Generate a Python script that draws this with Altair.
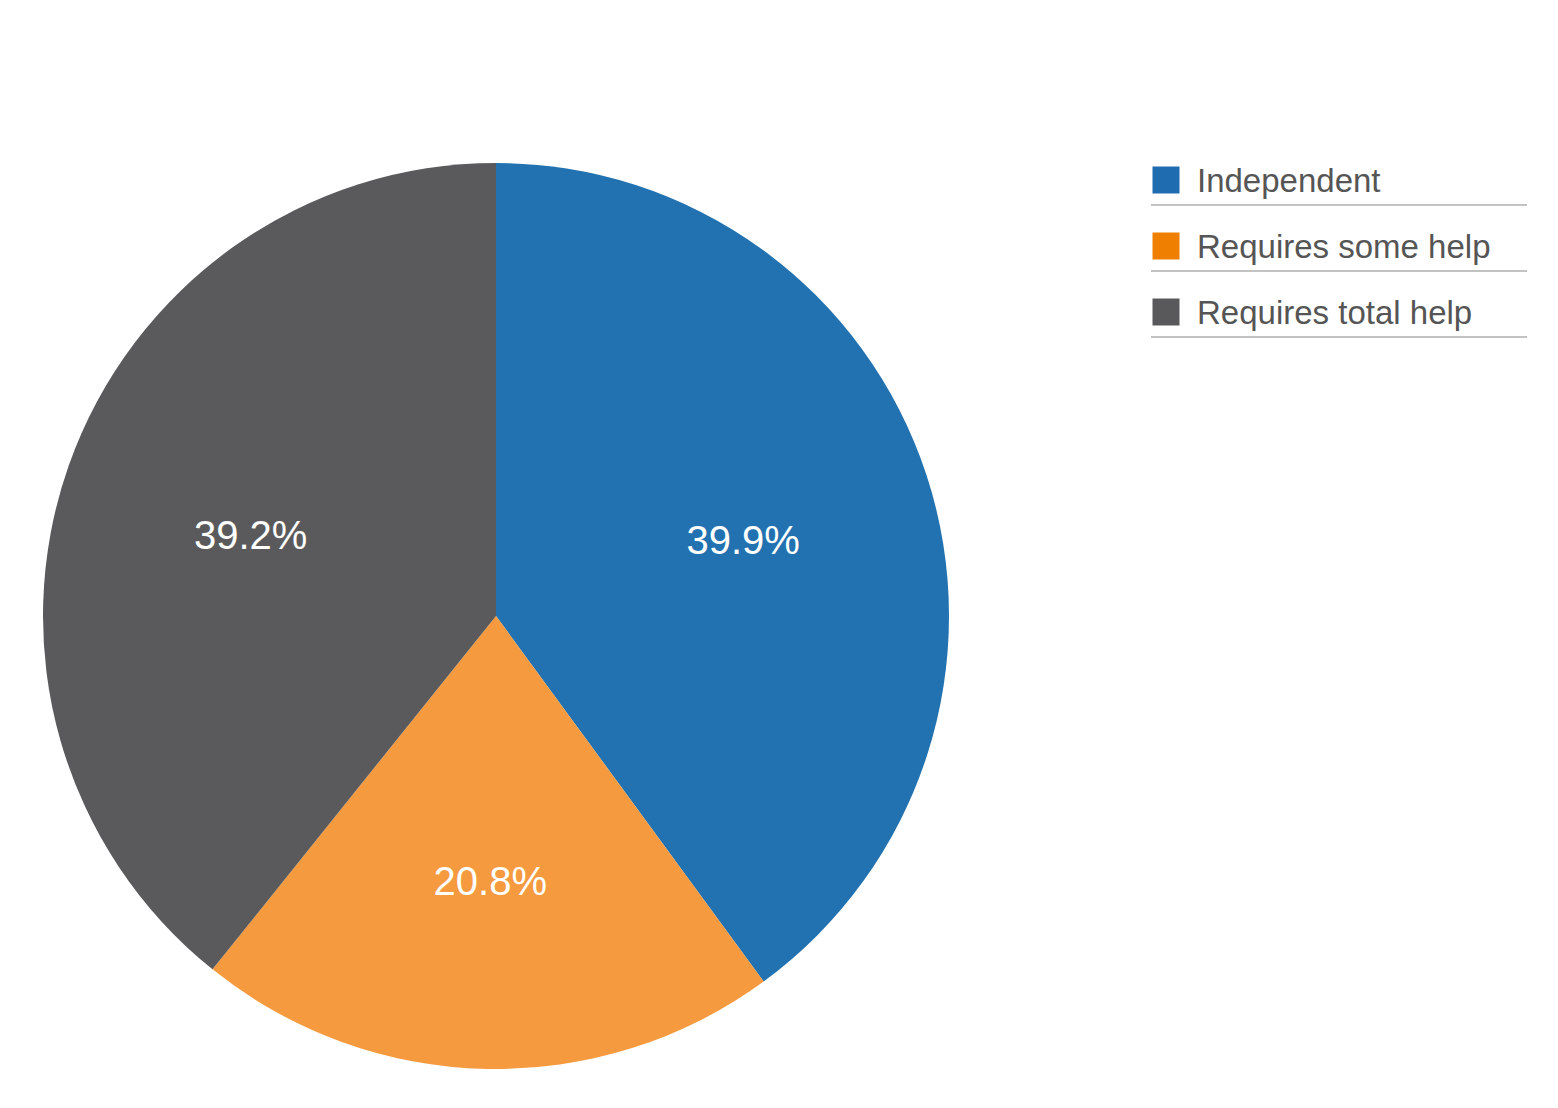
import altair as alt
import pandas as pd

categories = ["Independent", "Requires some help", "Requires total help"]
values = [39.9, 20.8, 39.2]
labels = ["39.9%", "20.8%", "39.2%"]

pie_colors = ["#2271B0", "#F59A3E", "#5A5A5C"]
legend_colors = ["#1F6DB0", "#EE7F00", "#59595B"]

df = pd.DataFrame({"category": categories, "value": values, "label": labels,
                   "order": list(range(len(categories)))})

CX, CY, R = 488, 608, 453

base = alt.Chart(df).encode(
    theta=alt.Theta("value:Q", stack=True),
    order=alt.Order("order:Q"),
)

pie = base.mark_arc(outerRadius=R, stroke=None).encode(
    color=alt.Color("category:N", scale=alt.Scale(domain=categories, range=pie_colors), legend=None),
    x=alt.value(CX), y=alt.value(CY),
)

text = base.mark_text(radius=260, fontSize=40, font="Liberation Sans", color="white",
                      baseline="middle", align="center", dy=7).encode(
    text="label:N",
    x=alt.value(CX), y=alt.value(CY),
)

yscale = alt.Scale(type="point", domain=categories, range=[172, 304], padding=0)

squares = alt.Chart(df).mark_square(size=27 * 27, opacity=1).encode(
    x=alt.value(1158),
    y=alt.Y("category:N", scale=yscale, axis=None),
    color=alt.Color("category:N", scale=alt.Scale(domain=categories, range=legend_colors), legend=None),
)

leg_text = alt.Chart(df).mark_text(align="left", baseline="middle", fontSize=33,
                                   font="Liberation Sans", color="#555555", dy=2).encode(
    x=alt.value(1189),
    y=alt.Y("category:N", scale=yscale, axis=None),
    text="category:N",
)

lines = alt.Chart(df).mark_tick(orient="horizontal", size=376, thickness=2, color="#AAAAAA",
                                yOffset=25).encode(
    x=alt.value(1331),
    y=alt.Y("category:N", scale=yscale, axis=None),
)

chart = alt.layer(pie, text, squares, leg_text, lines).resolve_scale(
    color="independent"
).properties(
    width=1540, height=1090, padding=0, background="white"
).configure_view(stroke=None)

chart.save("out.html", embed_options={"renderer": "svg", "actions": False})
